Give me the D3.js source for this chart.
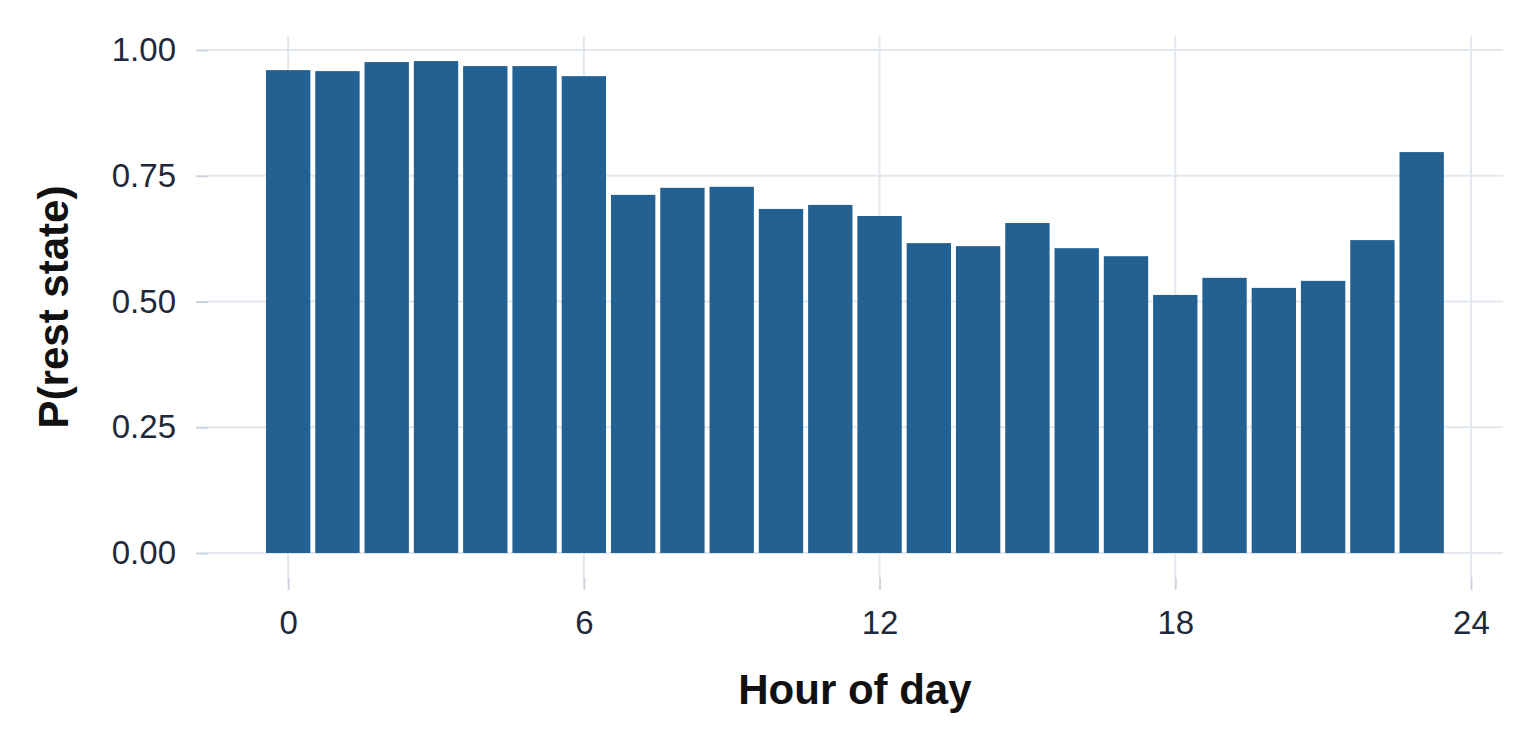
<!DOCTYPE html>
<html>
<head>
<meta charset="utf-8">
<script src="https://cdn.jsdelivr.net/npm/d3@7"></script>
<style>
  body { margin: 0; background: #fff; }
  svg text { font-family: "Liberation Sans", Arial, sans-serif; }
</style>
</head>
<body>
<svg id="chart" width="1540" height="748"></svg>
<script>
// hour of day and probability of rest state
const hours = d3.range(0, 24);
const restProb = [0.960, 0.958, 0.976, 0.978, 0.968, 0.968, 0.948, 0.712,
                  0.726, 0.728, 0.684, 0.692, 0.670, 0.616, 0.610, 0.656,
                  0.606, 0.590, 0.513, 0.547, 0.527, 0.541, 0.622, 0.797];
const xTicks = [0, 6, 12, 18, 24];
const yTicks = [0, 0.25, 0.5, 0.75, 1];

const panel = { left: 196, right: 1503, top: 36, bottom: 590 };
const tickLen = 12;

const svg = d3.select('#chart');

const x = d3.scaleLinear()
    .domain([-1.87, 24.65])
    .range([panel.left, panel.right]);

const y = d3.scaleLinear()
    .domain([-0.0736, 1.0278])
    .range([panel.bottom, panel.top]);

// grid
const grid = svg.append('g');
grid.selectAll('line.h')
    .data(yTicks)
    .join('line')
        .attr('class', 'h')
        .attr('x1', panel.left + tickLen)
        .attr('x2', panel.right)
        .attr('y1', d => y(d))
        .attr('y2', d => y(d))
        .attr('stroke', '#e2e8f0')
        .attr('stroke-width', 2);

grid.selectAll('line.v')
    .data(xTicks)
    .join('line')
        .attr('class', 'v')
        .attr('x1', d => x(d))
        .attr('x2', d => x(d))
        .attr('y1', panel.top)
        .attr('y2', panel.bottom - tickLen)
        .attr('stroke', '#e2e8f0')
        .attr('stroke-width', 2);

// bars
const barW = x(0.9) - x(0);
svg.append('g')
    .selectAll('rect')
    .data(hours)
    .join('rect')
        .attr('x', d => x(d) - barW / 2)
        .attr('width', barW)
        .attr('y', (d, i) => y(restProb[i]))
        .attr('height', (d, i) => y(0) - y(restProb[i]))
        .attr('fill', '#236192');

// axes (ticks drawn inside the panel edge, like the original)
const xAxis = d3.axisBottom(x)
    .tickValues(xTicks)
    .tickSize(tickLen)
    .tickPadding(21)
    .tickFormat(d3.format('d'));

const xg = svg.append('g')
    .attr('transform', `translate(0, ${panel.bottom - tickLen})`)
    .call(xAxis);
xg.select('.domain').remove();

const yAxis = d3.axisLeft(y)
    .tickValues(yTicks)
    .tickSize(tickLen)
    .tickPadding(20)
    .tickFormat(d3.format('.2f'));

const yg = svg.append('g')
    .attr('transform', `translate(${panel.left + tickLen}, 0)`)
    .call(yAxis);
yg.select('.domain').remove();

[xg, yg].forEach(g => {
    g.selectAll('.tick line')
        .attr('stroke', '#cbd5e1')
        .attr('stroke-width', 2);
    g.selectAll('.tick text')
        .attr('fill', '#1e293b')
        .style('font-size', '33px');
});

// axis titles
svg.append('text')
    .attr('x', (x(-0.45) + x(23.45)) / 2)
    .attr('y', 704)
    .attr('text-anchor', 'middle')
    .attr('fill', '#111')
    .style('font-size', '42px')
    .style('font-weight', 'bold')
    .text('Hour of day');

svg.append('text')
    .attr('transform', `translate(68, ${(panel.top + panel.bottom) / 2 - 6}) rotate(-90)`)
    .attr('text-anchor', 'middle')
    .attr('fill', '#111')
    .style('font-size', '42px')
    .style('font-weight', 'bold')
    .text('P(rest state)');
</script>
</body>
</html>
